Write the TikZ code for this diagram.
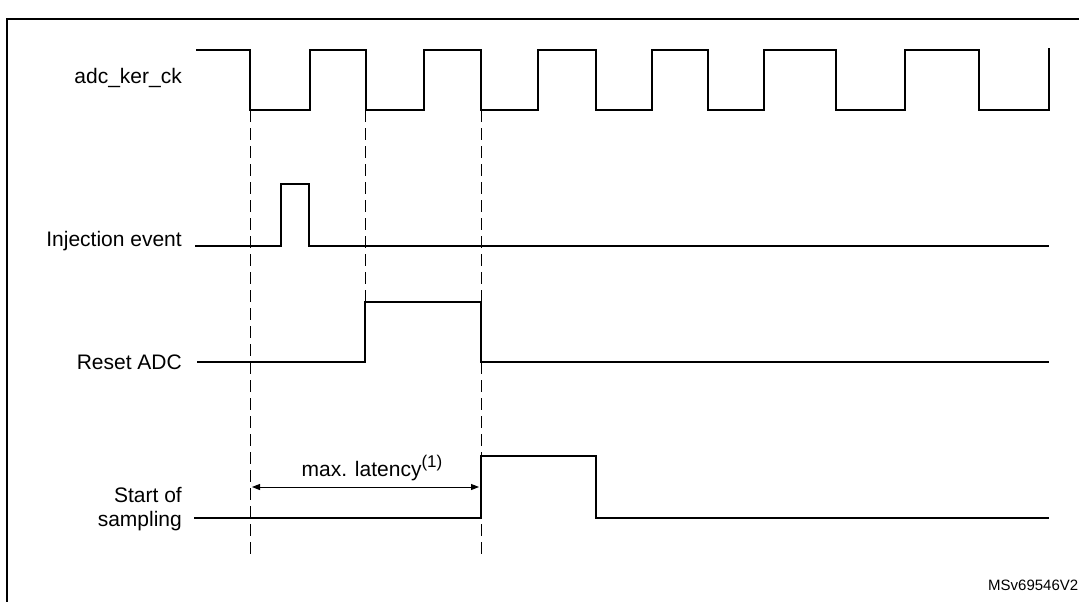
\documentclass[tikz,border=0pt]{standalone}
\usepackage{fontspec}
\setmainfont{Liberation Sans}
\usetikzlibrary{arrows.meta}
\begin{document}
\begin{tikzpicture}[x=1pt,y=-1pt,
  sig/.style={line width=1.3pt,line join=miter},
  dashln/.style={line width=1pt,dash pattern=on 12pt off 6pt},
  lab/.style={anchor=east,font=\fontsize{21}{24}\selectfont,align=right,inner sep=0pt}]
\useasboundingbox (0,0) rectangle (1079,602);
\draw[line width=1.5pt] (7,640) -- (7,19) -- (1100,19);
% clock
\draw[sig] (196,50) -- (250,50) -- (250,110) -- (310,110) -- (310,50) -- (366,50) -- (366,110)
  -- (424,110) -- (424,50) -- (481,50) -- (481,110) -- (538,110) -- (538,50) -- (596,50) -- (596,110)
  -- (652,110) -- (652,50) -- (708,50) -- (708,110) -- (764,110) -- (764,50) -- (836,50) -- (836,110)
  -- (905,110) -- (905,50) -- (979,50) -- (979,110) -- (1049,110) -- (1049,48);
% injection
\draw[sig] (195,246) -- (281,246) -- (281,184) -- (309,184) -- (309,246) -- (1049,246);
% reset
\draw[sig] (197,362) -- (365,362) -- (365,302) -- (481,302) -- (481,362) -- (1049,362);
% start of sampling
\draw[sig] (194,518) -- (481,518) -- (481,456) -- (596,456) -- (596,518) -- (1049,518);
% dashed
\coordinate (d1a) at (250,110); \coordinate (d1b) at (250,558);
\coordinate (d2a) at (365,110); \coordinate (d2b) at (365,362);
\coordinate (d3a) at (481,110); \coordinate (d3b) at (481,558);
\draw[dashln] (d1a) -- (d1b);
\draw[dashln] (d2a) -- (d2b);
\draw[dashln] (d3a) -- (d3b);
\coordinate (a1) at (252,487); \coordinate (a2) at (479,487);
\draw[line width=1pt,{Triangle[length=8pt,width=6pt]}-{Triangle[length=8pt,width=6pt]}] (a1) -- (a2);
\node[anchor=base,font=\fontsize{21}{24}\selectfont,inner sep=0pt] (ml) at (372,476) {max. latency\raisebox{9pt}{\fontsize{17}{20}\selectfont(1)}};
\node[lab] (l1) at (182,78) {adc\_ker\_ck};
\node[lab] (l2) at (182,241) {Injection event};
\node[lab] (l3) at (182,362) {Reset ADC};
\node[lab,anchor=north east] (l4) at (182,487) {Start of\\sampling};
\node[anchor=base west,font=\fontsize{15}{17}\selectfont,inner sep=0pt] (id) at (988,590) {MSv69546V2};
\end{tikzpicture}
\end{document}
